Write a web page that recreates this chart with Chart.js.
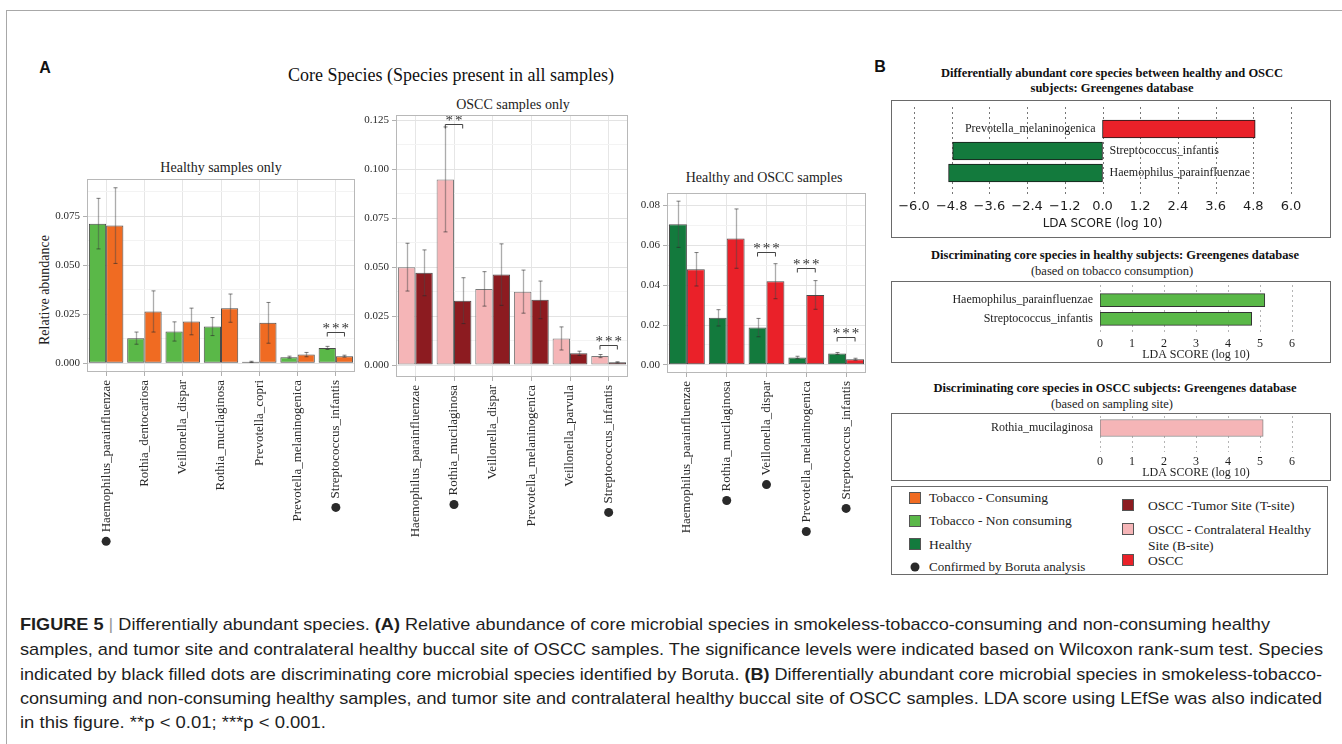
<!DOCTYPE html>
<html>
<head>
<meta charset="utf-8">
<script src="https://cdn.jsdelivr.net/npm/chart.js@4.4.1/dist/chart.umd.min.js"></script>
<style>
  body { margin: 0; background: #fff; }
  #fig { position: relative; width: 1342px; height: 744px; overflow: hidden;
         font-family: 'Liberation Serif', 'Times New Roman', serif; color: #222; }
  .abs { position: absolute; }
  canvas { position: absolute; }
  .c { position: absolute; transform: translate(-50%, -50%); white-space: nowrap; }
  .frameTop { left: 6px; top: 10px; width: 1336px; border-top: 1px solid #a8a8a8; }
  .frameLeft { left: 6px; top: 10px; height: 734px; border-left: 1px solid #a8a8a8; }
  .letter { font-family: 'Liberation Sans', Arial, sans-serif; font-weight: bold; font-size: 16px; color: #111; }
  .box { position: absolute; border: 1px solid #6a6a6a; box-sizing: border-box; }
  .btitle { font-weight: bold; font-size: 12.5px; color: #111; }
  .bsub { font-size: 12.5px; color: #222; }
  .leg { position: absolute; font-size: 13.5px; color: #222; white-space: nowrap; transform: translateY(-50%); }
  .sw { position: absolute; width: 12px; height: 12px; box-sizing: border-box; border: 1px solid #555; transform: translate(-50%, -50%); }
  .dot { position: absolute; width: 9px; height: 9px; border-radius: 50%; background: #2a2a2a; transform: translate(-50%, -50%); }
  .cap { position: absolute; left: 20px; white-space: nowrap; display: inline-block; transform-origin: 0 50%;
         font-family: 'Liberation Sans Narrow', 'Liberation Sans', Arial, sans-serif; font-size: 17px; line-height: 20px; color: #1e1e1e; }
  .cap b { font-weight: bold; }
  .cap .bar { color: #9a9a9a; }
</style>
</head>
<body>
<div id="fig">
  <div class="abs frameTop"></div>
  <div class="abs frameLeft"></div>

  <!-- Panel A -->
  <div class="c letter" style="left:45px; top:68px;">A</div>
  <div class="c" style="left:451px; top:75px; font-size:18px; color:#111;">Core Species (Species present in all samples)</div>
  <div class="c" style="left:221px; top:168px; font-size:14px;">Healthy samples only</div>
  <div class="c" style="left:513px; top:105px; font-size:14px;">OSCC samples only</div>
  <div class="c" style="left:764px; top:178px; font-size:14px;">Healthy and OSCC samples</div>
  <div class="c" style="left:45px; top:290px; font-size:14px; transform: translate(-50%, -50%) rotate(-90deg);">Relative abundance</div>

  <canvas id="chartHealthy"></canvas>
  <canvas id="chartOscc"></canvas>
  <canvas id="chartBoth"></canvas>

  <!-- Panel B -->
  <div class="c letter" style="left:880px; top:67px;">B</div>
  <div class="c btitle" style="left:1112px; top:73px;">Differentially abundant core species between healthy and OSCC</div>
  <div class="c btitle" style="left:1112px; top:88px;">subjects: Greengenes database</div>
  <div class="box" style="left:891px; top:100px; width:440px; height:138px;"></div>
  <canvas id="ldaAll"></canvas>

  <div class="c btitle" style="left:1115px; top:255px;">Discriminating core species in healthy subjects: Greengenes database</div>
  <div class="c bsub" style="left:1112px; top:271px;">(based on tobacco consumption)</div>
  <div class="box" style="left:891px; top:281px; width:440px; height:82px;"></div>
  <canvas id="ldaHealthy"></canvas>

  <div class="c btitle" style="left:1115px; top:388px;">Discriminating core species in OSCC subjects: Greengenes database</div>
  <div class="c bsub" style="left:1112px; top:404px;">(based on sampling site)</div>
  <div class="box" style="left:891px; top:413px; width:440px; height:68px;"></div>
  <canvas id="ldaOscc"></canvas>

  <!-- Legend -->
  <div class="box" style="left:891px; top:486px; width:437px; height:89px;"></div>
  <div class="sw" style="left:915px; top:498px; background:#f06b22;"></div>
  <div class="leg" style="left:929px; top:498px;">Tobacco - Consuming</div>
  <div class="sw" style="left:915px; top:521px; background:#5ab848;"></div>
  <div class="leg" style="left:929px; top:521px;">Tobacco - Non consuming</div>
  <div class="sw" style="left:915px; top:544px; background:#137a3d;"></div>
  <div class="leg" style="left:929px; top:545px;">Healthy</div>
  <div class="dot" style="left:915px; top:567px;"></div>
  <div class="leg" style="left:929px; top:567px; font-size:13px;">Confirmed by Boruta analysis</div>
  <div class="sw" style="left:1128px; top:505px; background:#8c1b20;"></div>
  <div class="leg" style="left:1148px; top:506px;">OSCC -Tumor Site (T-site)</div>
  <div class="sw" style="left:1128px; top:529px; background:#f5b5b7;"></div>
  <div class="leg" style="left:1148px; top:530px;">OSCC - Contralateral Healthy</div>
  <div class="leg" style="left:1148px; top:546px;">Site (B-site)</div>
  <div class="sw" style="left:1128px; top:560px; background:#ea2129;"></div>
  <div class="leg" style="left:1148px; top:561px;">OSCC</div>

  <!-- Caption -->
  <div class="cap" data-w="1250" style="top:615px;"><b>FIGURE 5</b> <span class="bar">|</span> Differentially abundant species. <b>(A)</b> Relative abundance of core microbial species in smokeless-tobacco-consuming and non-consuming healthy</div>
  <div class="cap" data-w="1303" style="top:640px;">samples, and tumor site and contralateral healthy buccal site of OSCC samples. The significance levels were indicated based on Wilcoxon rank-sum test. Species</div>
  <div class="cap" data-w="1302" style="top:665px;">indicated by black filled dots are discriminating core microbial species identified by Boruta. <b>(B)</b> Differentially abundant core microbial species in smokeless-tobacco-</div>
  <div class="cap" data-w="1302" style="top:689px;">consuming and non-consuming healthy samples, and tumor site and contralateral healthy buccal site of OSCC samples. LDA score using LEfSe was also indicated</div>
  <div class="cap" data-w="306" style="top:713px;">in this figure. **p &lt; 0.01; ***p &lt; 0.001.</div>
</div>

<script>
// ---------- Healthy samples only (tobacco consumption) ----------
const healthySpecies = ['Haemophilus_parainfluenzae', 'Rothia_dentocariosa', 'Veillonella_dispar',
  'Rothia_mucilaginosa', 'Prevotella_copri', 'Prevotella_melaninogenica', 'Streptococcus_infantis'];
const healthyBoruta = [true, false, false, false, false, false, true];
const nonConsumingMean = [0.0712, 0.0128, 0.0162, 0.0187, 0.0007, 0.0031, 0.0078];
const nonConsumingSE   = [0.0129, 0.0031, 0.0049, 0.0046, 0.0003, 0.0005, 0.0008];
const consumingMean    = [0.0702, 0.0264, 0.0213, 0.0281, 0.0206, 0.0044, 0.0036];
const consumingSE      = [0.0193, 0.0105, 0.0068, 0.0072, 0.0104, 0.0011, 0.0005];
const healthySig = [{ index: 6, label: '***', level: 0.0159 }];

// ---------- OSCC samples only (sampling site) ----------
const osccSpecies = ['Haemophilus_parainfluenzae', 'Rothia_mucilaginosa', 'Veillonella_dispar',
  'Prevotella_melaninogenica', 'Veillonella_parvula', 'Streptococcus_infantis'];
const osccBoruta = [false, true, false, false, false, true];
const bSiteMean = [0.0500, 0.0948, 0.0389, 0.0375, 0.0136, 0.0046];
const bSiteSE   = [0.0122, 0.0268, 0.0088, 0.0110, 0.0059, 0.0008];
const tSiteMean = [0.0471, 0.0329, 0.0462, 0.0333, 0.0060, 0.0014];
const tSiteSE   = [0.0117, 0.0117, 0.0157, 0.0096, 0.0011, 0.0003];
const osccSig = [{ index: 1, label: '**', level: 0.1233 }, { index: 5, label: '***', level: 0.0102 }];

// ---------- Healthy and OSCC samples ----------
const bothSpecies = ['Haemophilus_parainfluenzae', 'Rothia_mucilaginosa', 'Veillonella_dispar',
  'Prevotella_melaninogenica', 'Streptococcus_infantis'];
const bothBoruta = [false, true, true, true, true];
const healthyMean = [0.0706, 0.0236, 0.0187, 0.0037, 0.0057];
const healthySE   = [0.0116, 0.0041, 0.0046, 0.0006, 0.0005];
const osccMean    = [0.0480, 0.0634, 0.0420, 0.0351, 0.0028];
const osccSE      = [0.0084, 0.0149, 0.0088, 0.0072, 0.0005];
const bothSig = [{ index: 2, label: '***', level: 0.0566 }, { index: 3, label: '***', level: 0.0485 },
  { index: 4, label: '***', level: 0.0140 }];

// ---------- LEfSe LDA scores ----------
const ldaAllSpecies = ['Prevotella_melaninogenica', 'Streptococcus_infantis', 'Haemophilus_parainfluenzae'];
const ldaAllScores = [4.86, -4.77, -4.90];
const ldaAllTicks = [-6.0, -4.8, -3.6, -2.4, -1.2, 0.0, 1.2, 2.4, 3.6, 4.8, 6.0];
const ldaHealthySpecies = ['Haemophilus_parainfluenzae', 'Streptococcus_infantis'];
const ldaHealthyScores = [5.15, 4.74];
const ldaOsccSpecies = ['Rothia_mucilaginosa'];
const ldaOsccScores = [5.10];
const ldaSiteTicks = [0, 1, 2, 3, 4, 5, 6];

const COLORS = {
  nonConsuming: '#5ab848', consuming: '#f06b22', healthy: '#137a3d',
  tSite: '#8c1b20', bSite: '#f5b5b7', oscc: '#ea2129'
};

const SERIF = "'Liberation Serif', 'Times New Roman', serif";
Chart.defaults.font.family = SERIF;
const LABEL_SIZE = 13;     // species names under the bars
const LABEL_GAP = 8;       // tick mark + padding below the panel

function placeCanvas(id, left, top, width, height) {
  const c = document.getElementById(id);
  c.width = width; c.height = height;
  c.style.left = left + 'px'; c.style.top = top + 'px';
  c.style.width = width + 'px'; c.style.height = height + 'px';
  return c;
}

// Mean ± SE whiskers for every bar
const errorBarPlugin = {
  id: 'errorBars',
  afterDatasetsDraw(chart) {
    const { ctx } = chart;
    const y = chart.scales.y;
    ctx.save();
    chart.data.datasets.forEach((ds, di) => {
      chart.getDatasetMeta(di).data.forEach((bar, i) => {
        const m = ds.data[i], e = ds.se[i];
        const hi = y.getPixelForValue(m + e), lo = y.getPixelForValue(m - e);
        const x = Math.round(bar.x) + 0.5;
        ctx.strokeStyle = 'rgba(70,70,70,0.45)';
        ctx.lineWidth = 1.3;
        ctx.beginPath(); ctx.moveTo(x, hi); ctx.lineTo(x, lo); ctx.stroke();
        ctx.strokeStyle = 'rgba(40,40,40,0.6)';
        ctx.lineWidth = 1;
        ctx.beginPath();
        ctx.moveTo(x - 2, hi); ctx.lineTo(x + 2, hi);
        ctx.moveTo(x - 2, lo); ctx.lineTo(x + 2, lo);
        ctx.stroke();
      });
    });
    ctx.restore();
  }
};

// Significance brackets between the two bars of a category
function sigPlugin(items) {
  return {
    id: 'sigBrackets',
    afterDatasetsDraw(chart) {
      const { ctx } = chart;
      const y = chart.scales.y;
      const m0 = chart.getDatasetMeta(0), m1 = chart.getDatasetMeta(1);
      ctx.save();
      items.forEach(s => {
        const x0 = m0.data[s.index].x, x1 = m1.data[s.index].x;
        const py = Math.round(y.getPixelForValue(s.level)) + 0.5;
        ctx.strokeStyle = '#444';
        ctx.lineWidth = 1;
        ctx.beginPath();
        ctx.moveTo(x0, py + 4); ctx.lineTo(x0, py); ctx.lineTo(x1, py); ctx.lineTo(x1, py + 4);
        ctx.stroke();
        ctx.fillStyle = '#333';
        ctx.font = '15px ' + SERIF;
        ctx.textAlign = 'center';
        ctx.textBaseline = 'middle';
        if ('letterSpacing' in ctx) ctx.letterSpacing = '2px';
        ctx.fillText(s.label, (x0 + x1) / 2 + 1, py - 3);
      });
      ctx.restore();
    }
  };
}

// Filled dot after the names confirmed by Boruta
function borutaDotPlugin(labels, flags) {
  return {
    id: 'borutaDots',
    afterDraw(chart) {
      const { ctx } = chart;
      const x = chart.scales.x;
      ctx.save();
      ctx.font = LABEL_SIZE + 'px ' + SERIF;
      ctx.fillStyle = '#2a2a2a';
      labels.forEach((l, i) => {
        if (!flags[i]) return;
        const w = ctx.measureText(l).width;
        const px = x.getPixelForTick(i);
        const py = x.top + LABEL_GAP + w + 9;
        ctx.beginPath(); ctx.arc(px, py, 4.5, 0, Math.PI * 2); ctx.fill();
      });
      ctx.restore();
    }
  };
}

// Light panel border on top of everything
const panelBorderPlugin = {
  id: 'panelBorder',
  afterDraw(chart) {
    const a = chart.chartArea, ctx = chart.ctx;
    ctx.save();
    ctx.strokeStyle = '#b8b8b8';
    ctx.lineWidth = 1;
    ctx.strokeRect(Math.round(a.left) + 0.5, Math.round(a.top) + 0.5,
                   Math.round(a.right - a.left) - 1, Math.round(a.bottom - a.top) - 1);
    ctx.restore();
  }
};

function abundanceChart(id, geo, labels, boruta, series, sig, majorStep, decimals) {
  const canvas = placeCanvas(id, geo.left, geo.top, geo.width, geo.height);
  const tops = series.flatMap(s => s.mean.map((m, i) => m + s.se[i]));
  const maxTop = Math.max(...tops);
  const yMin = -0.05 * maxTop, yMax = 1.05 * maxTop;
  const minor = majorStep / 2;
  const tickVals = [];
  for (let k = 0; k * minor <= yMax + 1e-12; k++) tickVals.push(+(k * minor).toFixed(6));
  const isMajor = v => Math.abs(v / majorStep - Math.round(v / majorStep)) < 1e-6;

  return new Chart(canvas, {
    type: 'bar',
    data: {
      labels: labels,
      datasets: series.map(s => ({
        label: s.name, data: s.mean, se: s.se,
        backgroundColor: s.color, borderColor: s.edge, borderWidth: 1, borderSkipped: false,
        categoryPercentage: 0.9, barPercentage: 1.0
      }))
    },
    options: {
      responsive: false, animation: false, events: [],
      layout: { padding: { top: geo.padT, right: geo.padR, left: 0, bottom: 0 } },
      plugins: { legend: { display: false }, tooltip: { enabled: false }, title: { display: false } },
      scales: {
        x: {
          border: { display: false },
          grid: { offset: false, color: '#e6e6e6', tickColor: '#b0b0b0', tickLength: 4 },
          ticks: { minRotation: 90, maxRotation: 90, autoSkip: false, padding: LABEL_GAP - 4, color: '#2a2a2a',
                   font: { size: LABEL_SIZE } },
          afterFit: s => { s.height = geo.axisH; }
        },
        y: {
          min: yMin, max: yMax,
          border: { display: false },
          afterBuildTicks: s => { s.ticks = tickVals.map(v => ({ value: v })); },
          grid: {
            color: c => (c.tick && isMajor(c.tick.value)) ? '#e3e3e3' : '#f3f3f3',
            tickColor: c => (c.tick && isMajor(c.tick.value)) ? '#b0b0b0' : 'rgba(0,0,0,0)',
            tickLength: 4
          },
          ticks: { autoSkip: false, padding: 3, color: '#2a2a2a', font: { size: 11 },
                   callback: v => isMajor(v) ? v.toFixed(decimals) : '' },
          afterFit: s => { s.width = geo.axisW; }
        }
      }
    },
    plugins: [errorBarPlugin, sigPlugin(sig), panelBorderPlugin, borutaDotPlugin(labels, boruta)]
  });
}

// ---------- LDA charts ----------
function dottedGridPlugin(color) {
  return {
    id: 'dottedGrid',
    beforeDatasetsDraw(chart) {
      const { ctx, chartArea: a } = chart;
      const x = chart.scales.x;
      ctx.save();
      ctx.strokeStyle = color;
      ctx.lineWidth = 1;
      ctx.setLineDash([2, 3]);
      x.ticks.forEach(t => {
        const px = Math.round(x.getPixelForValue(t.value)) + 0.5;
        ctx.beginPath(); ctx.moveTo(px, a.top); ctx.lineTo(px, a.bottom); ctx.stroke();
      });
      ctx.restore();
    }
  };
}

function speciesLabelPlugin(names, fontSize) {
  return {
    id: 'speciesLabels',
    afterDatasetsDraw(chart) {
      const { ctx } = chart;
      const x = chart.scales.x;
      const x0 = x.getPixelForValue(0);
      const ds = chart.data.datasets[0];
      ctx.save();
      ctx.fillStyle = '#1e1e1e';
      ctx.font = fontSize + 'px ' + SERIF;
      ctx.textBaseline = 'middle';
      chart.getDatasetMeta(0).data.forEach((bar, i) => {
        const v = ds.data[i].x;
        if (v >= 0) { ctx.textAlign = 'right'; ctx.fillText(names[i], x0 - 7, bar.y); }
        else { ctx.textAlign = 'left'; ctx.fillText(names[i], x0 + 7, bar.y); }
      });
      ctx.restore();
    }
  };
}

function ldaChart(id, geo, names, scores, colors, edge, ticks, tickFmt, tickFont, gridColor, labelSize) {
  const canvas = placeCanvas(id, geo.left, geo.top, geo.width, geo.height);
  return new Chart(canvas, {
    type: 'bar',
    data: {
      datasets: [{
        data: scores.map((s, i) => ({ x: s, y: i })),
        backgroundColor: colors, borderColor: edge, borderWidth: 1, borderSkipped: false,
        barThickness: geo.barT
      }]
    },
    options: {
      indexAxis: 'y',
      responsive: false, animation: false, events: [],
      layout: { padding: { top: geo.padT, left: geo.padL, right: geo.padR, bottom: 0 } },
      plugins: { legend: { display: false }, tooltip: { enabled: false } },
      scales: {
        y: { type: 'linear', reverse: true, offset: false, min: geo.yMin, max: geo.yMax, display: false },
        x: {
          type: 'linear', offset: false, min: ticks[0], max: ticks[ticks.length - 1],
          border: { display: false },
          grid: { display: false, drawTicks: false },
          afterBuildTicks: s => { s.ticks = ticks.map(v => ({ value: v })); },
          ticks: { autoSkip: false, maxRotation: 0, padding: geo.tickPad, color: '#1e1e1e',
                   font: tickFont, callback: tickFmt },
          title: { display: true, text: 'LDA SCORE (log 10)', color: '#1e1e1e',
                   font: geo.titleFont, padding: { top: 0, bottom: geo.titlePadB } },
          afterFit: s => { s.height = geo.axisH; }
        }
      }
    },
    plugins: [dottedGridPlugin(gridColor), speciesLabelPlugin(names, labelSize)]
  });
}

const signedFmt = v => (v < 0 ? '\u2212' : '') + Math.abs(v).toFixed(1);
const sansTick = { family: "'DejaVu Sans', sans-serif", size: 13 };

const charts = [];
function build() {
  charts.push(abundanceChart('chartHealthy',
    { left: 20, top: 150, width: 340, height: 420, axisW: 67, padR: 5, padT: 29, axisH: 198 },
    healthySpecies, healthyBoruta,
    [{ name: 'Tobacco - Non consuming', mean: nonConsumingMean, se: nonConsumingSE, color: COLORS.nonConsuming, edge: '#4a4a4a' },
     { name: 'Tobacco - Consuming', mean: consumingMean, se: consumingSE, color: COLORS.consuming, edge: '#4a4a4a' }],
    healthySig, 0.025, 3));

  charts.push(abundanceChart('chartOscc',
    { left: 330, top: 100, width: 305, height: 470, axisW: 66, padR: 7, padT: 15, axisH: 193 },
    osccSpecies, osccBoruta,
    [{ name: 'OSCC - Contralateral Healthy Site (B-site)', mean: bSiteMean, se: bSiteSE, color: COLORS.bSite, edge: '#7a7a7a' },
     { name: 'OSCC -Tumor Site (T-site)', mean: tSiteMean, se: tSiteSE, color: COLORS.tSite, edge: '#4a4a4a' }],
    osccSig, 0.025, 3));

  charts.push(abundanceChart('chartBoth',
    { left: 620, top: 180, width: 252, height: 390, axisW: 47, padR: 6, padT: 13, axisH: 197 },
    bothSpecies, bothBoruta,
    [{ name: 'Healthy', mean: healthyMean, se: healthySE, color: COLORS.healthy, edge: '#4a4a4a' },
     { name: 'OSCC', mean: osccMean, se: osccSE, color: COLORS.oscc, edge: '#4a4a4a' }],
    bothSig, 0.02, 2));

  charts.push(ldaChart('ldaAll',
    { left: 892, top: 101, width: 438, height: 136, padL: 22, padR: 39, padT: 6, axisH: 42,
      yMin: -1, yMax: 3, barT: 18, tickPad: 4, titlePadB: 6,
      titleFont: { family: "'DejaVu Sans', sans-serif", size: 12 } },
    ldaAllSpecies, ldaAllScores,
    ldaAllScores.map(s => s > 0 ? COLORS.oscc : COLORS.healthy), '#1a1a1a',
    ldaAllTicks, signedFmt, sansTick, '#777', 12));

  charts.push(ldaChart('ldaHealthy',
    { left: 892, top: 282, width: 438, height: 80, padL: 208, padR: 38, padT: 3, axisH: 29,
      yMin: -0.8, yMax: 1.75, barT: 13, tickPad: 4, titlePadB: 0,
      titleFont: { size: 12 } },
    ldaHealthySpecies, ldaHealthyScores,
    ldaHealthyScores.map(() => COLORS.nonConsuming), '#333',
    ldaSiteTicks, v => String(v), { size: 12 }, '#b5b5b5', 12));

  charts.push(ldaChart('ldaOscc',
    { left: 892, top: 414, width: 438, height: 66, padL: 208, padR: 38, padT: 2, axisH: 28,
      yMin: -0.6, yMax: 1.2, barT: 17, tickPad: 3, titlePadB: 0,
      titleFont: { size: 12 } },
    ldaOsccSpecies, ldaOsccScores,
    ldaOsccScores.map(() => COLORS.bSite), '#8a8a8a',
    ldaSiteTicks, v => String(v), { size: 12 }, '#b5b5b5', 12));
}
build();

// Caption lines set to their column widths
function fitCaption() {
  document.querySelectorAll('.cap').forEach(el => {
    el.style.transform = 'none';
    const w = el.getBoundingClientRect().width;
    el.style.transform = 'scaleX(' + (parseFloat(el.dataset.w) / w) + ')';
  });
}
fitCaption();
if (document.fonts && document.fonts.ready) {
  document.fonts.ready.then(() => { fitCaption(); charts.forEach(c => c.update()); });
}
</script>
</body>
</html>
